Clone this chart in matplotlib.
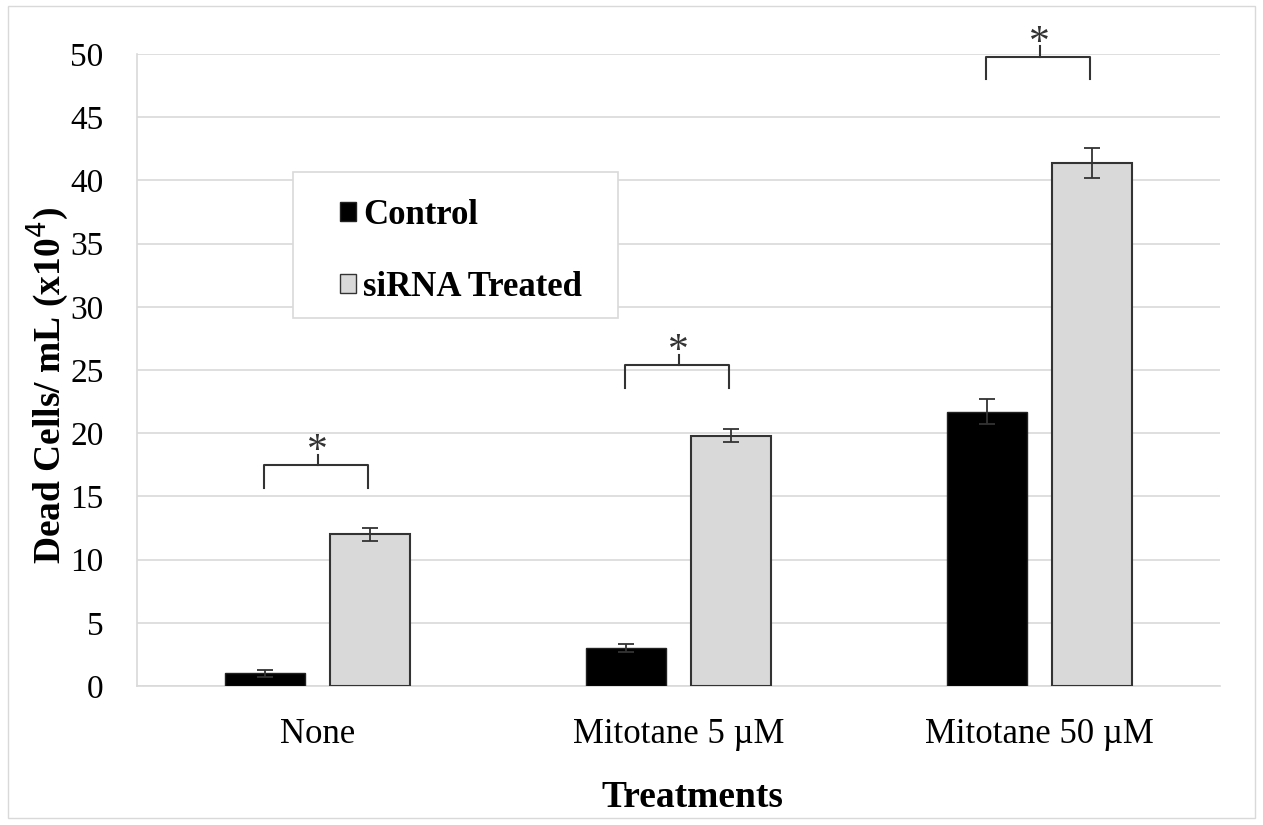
import matplotlib
matplotlib.use("Agg")
import matplotlib.pyplot as plt
import numpy as np
from matplotlib.patches import Rectangle

categories = ["None", "Mitotane 5 \u00b5M", "Mitotane 50 \u00b5M"]
control = [1.0, 3.0, 21.7]
control_err = [0.3, 0.3, 1.0]
sirna = [12.0, 19.8, 41.4]
sirna_err = [0.5, 0.5, 1.2]
bracket_y = [17.5, 25.4, 49.8]
yticks = [0, 5, 10, 15, 20, 25, 30, 35, 40, 45, 50]

plt.rcParams['font.family'] = ['Liberation Serif', 'DejaVu Serif']

W, H = 1263, 825
fig = plt.figure(figsize=(W / 100, H / 100), dpi=100)
fig.patches.append(Rectangle((0.006, 0.008), 0.988, 0.985, transform=fig.transFigure,
                             fill=False, edgecolor='#d9d9d9', linewidth=1))
ax = fig.add_axes([137/W, 1 - 686/H, (1220-137)/W, (686-54)/H])

x = np.arange(len(categories))
w = 0.22
off = 0.145
ekw = dict(ecolor='#333333', elinewidth=1.3, capsize=6, capthick=1.3)
ax.bar(x - off, control, w, color='black', edgecolor='#222222', linewidth=1,
       yerr=control_err, error_kw=ekw, label='Control', zorder=3)
ax.bar(x + off, sirna, w, color='#d9d9d9', edgecolor='#333333', linewidth=1.5,
       yerr=sirna_err, error_kw=ekw, label='siRNA Treated', zorder=3)

for i, by in enumerate(bracket_y):
    x0, x1 = i - off - 0.002, i + off - 0.005
    ax.plot([x0, x0, x1, x1], [by - 1.8, by, by, by - 1.8], color='#333333', lw=1.5,
            zorder=4, clip_on=False)
    ax.plot([i, i], [by, by + 0.8], color='#333333', lw=1.5, zorder=4, clip_on=False)
    ax.text(i, by + 0.2, '*', ha='center', va='baseline', fontsize=30, color='#333333')

ax.set_xlim(-0.5, 2.5)
ax.set_ylim(0, 50)
ax.set_yticks(yticks)
ax.set_xticks(x)
ax.set_xticklabels(categories, fontsize=25)
ax.tick_params(axis='y', labelsize=24, length=0, pad=24)
ax.tick_params(axis='x', length=0, pad=23)
ax.grid(axis='y', color='#d9d9d9', linewidth=1.2, zorder=0)
ax.set_axisbelow(True)
for s in ['top', 'right']:
    ax.spines[s].set_visible(False)
for s in ['left', 'bottom']:
    ax.spines[s].set_color('#d9d9d9')
    ax.spines[s].set_linewidth(1.2)

ax.set_ylabel('Dead Cells/ mL (x10$^{4}$)', fontsize=27, fontweight='bold')
ax.yaxis.set_label_coords((72 - 137) / 1083, (686 - 385) / 632)
ax.set_xlabel('Treatments', fontsize=27, fontweight='bold')
ax.xaxis.set_label_coords((692 - 137) / 1083, (686 - 780) / 632)

# legend frame
ax.add_patch(Rectangle((293/W, 1 - 318/H), (618-293)/W, (318-172)/H,
                       transform=fig.transFigure, fill=True, facecolor='white',
                       edgecolor='#d9d9d9', linewidth=1.2, zorder=5, clip_on=False))
leg = ax.legend(loc='upper left', bbox_to_anchor=(340/W, 1 - 199/H),
                bbox_transform=fig.transFigure,
                prop=dict(family='Liberation Serif', weight='bold', size=25),
                frameon=False, handlelength=0.47, handleheight=0.47,
                labelspacing=1.12, borderpad=0, handletextpad=0.2, borderaxespad=0)
leg.set_zorder(6)
for h in leg.legend_handles:
    h.set_linewidth(1)

fig.savefig('out.png', dpi=100)
